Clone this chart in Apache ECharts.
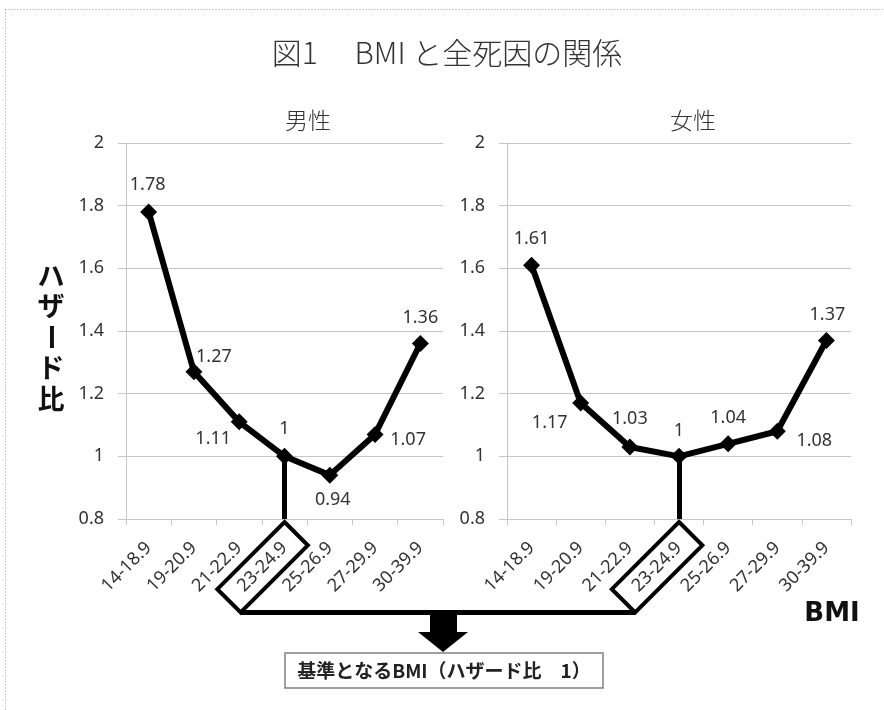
<!DOCTYPE html>
<html>
<head>
<meta charset="utf-8">
<script src="https://cdn.jsdelivr.net/npm/echarts@6/dist/echarts.min.js"></script>
<style>
  html, body { margin: 0; padding: 0; background: #ffffff; }
  #main { width: 884px; height: 710px; }
</style>
</head>
<body>
<div id="main"></div>
<script>
// BMI categories (x axis)
const categories = ['14-18.9', '19-20.9', '21-22.9', '23-24.9', '25-26.9', '27-29.9', '30-39.9'];
// Hazard ratios for all-cause mortality
const maleHR = [1.78, 1.27, 1.11, 1, 0.94, 1.07, 1.36];
const femaleHR = [1.61, 1.17, 1.03, 1, 1.04, 1.08, 1.37];
// Value axis range and step
const yMin = 0.8;
const yMax = 2;
const yStep = 0.2;
// Reference group
const referenceIndex = 3;
const referenceHR = 1;

// Texts
const chartTitle = '図1　 BMI と全死因の関係';
const panelTitles = ['男性', '女性'];
const yAxisTitle = 'ハザード比';
const xAxisTitle = 'BMI';
const noteText = '基準となるBMI（ハザード比　1）';

// Label placement around each marker (pixels)
const maleLabelOffsets = [[-1, -27], [20, -15], [-26, 17], [0, -27], [3, 25], [33, 5], [0, -26]];
const femaleLabelOffsets = [[0, -26], [-31, 20], [0, -28], [0, -25], [0, -26], [37, 10], [1, -26]];

const GRID_COLOR = '#c6c6c6';
const TEXT_COLOR = '#333333';
const NUM_FONT = '"Noto Sans", "DejaVu Sans", sans-serif';
const JP_FONT = '"Noto Sans CJK JP", "Noto Sans", sans-serif';

const chart = echarts.init(document.getElementById('main'), null, { renderer: 'canvas' });

function makeXAxis(gridIndex) {
  return {
    type: 'category',
    gridIndex: gridIndex,
    data: categories,
    boundaryGap: true,
    axisLine: { show: true, lineStyle: { color: GRID_COLOR, width: 1 } },
    axisTick: { show: true, interval: 0, length: 6, lineStyle: { color: GRID_COLOR } },
    axisLabel: {
      interval: 0, rotate: 45, margin: 26,
      fontSize: 18, color: TEXT_COLOR, fontFamily: NUM_FONT
    },
    splitLine: { show: false }
  };
}

function makeYAxis(gridIndex) {
  return {
    type: 'value',
    gridIndex: gridIndex,
    min: yMin, max: yMax, interval: yStep,
    axisLine: { show: true, lineStyle: { color: GRID_COLOR, width: 1 } },
    axisTick: { show: true, length: 8, lineStyle: { color: GRID_COLOR } },
    axisLabel: {
      margin: 22, fontSize: 18, color: TEXT_COLOR, fontFamily: NUM_FONT,
      formatter: v => String(Math.round(v * 10) / 10)
    },
    splitLine: { show: true, lineStyle: { color: GRID_COLOR, width: 1 } }
  };
}

function makeSeries(name, values, offsets, idx) {
  return {
    name: name,
    type: 'line',
    xAxisIndex: idx,
    yAxisIndex: idx,
    data: values.map((v, i) => ({
      value: v,
      label: { offset: offsets[i] }
    })),
    symbol: 'diamond',
    symbolSize: 17,
    lineStyle: { color: '#000000', width: 6 },
    itemStyle: { color: '#000000' },
    label: {
      show: true, position: 'inside',
      fontSize: 18, color: TEXT_COLOR, fontFamily: NUM_FONT
    },
    markLine: {
      silent: true,
      symbol: ['none', 'none'],
      label: { show: false },
      lineStyle: { color: '#000000', width: 5, type: 'solid' },
      data: [[
        { coord: [referenceIndex, referenceHR] },
        { coord: [referenceIndex, yMin] }
      ]]
    },
    z: 5,
    animation: false
  };
}

const option = {
  animation: false,
  backgroundColor: '#ffffff',
  grid: [
    { left: 126, top: 143, width: 317, height: 376 },
    { left: 507, top: 143, width: 344, height: 376 }
  ],
  xAxis: [makeXAxis(0), makeXAxis(1)],
  yAxis: [makeYAxis(0), makeYAxis(1)],
  series: [
    makeSeries(panelTitles[0], maleHR, maleLabelOffsets, 0),
    makeSeries(panelTitles[1], femaleHR, femaleLabelOffsets, 1)
  ]
};
chart.setOption(option);

// Annotation shapes placed relative to the reference category on each panel
function refBoxShapes(gridIndex) {
  const p = chart.convertToPixel({ gridIndex: gridIndex }, [referenceIndex, yMin]);
  const tx = p[0], ty = p[1] + 3;
  const s = Math.SQRT1_2;
  const shortSide = 33, longSide = 95;
  const T = [tx, ty];
  const R = [tx + shortSide * s, ty + shortSide * s];
  const L = [tx - longSide * s, ty + longSide * s];
  const B = [R[0] + L[0] - tx, R[1] + L[1] - ty];
  return { points: [T, R, B, L], bottom: B };
}
const boxM = refBoxShapes(0);
const boxF = refBoxShapes(1);
const joinY = (boxM.bottom[1] + boxF.bottom[1]) / 2;

const yTitleChars = yAxisTitle.split('');
const yTitleCenters = [276, 306, 337, 368, 399];

const graphics = [
  // dotted frame
  { type: 'line', shape: { x1: 5.5, y1: 9.5, x2: 884, y2: 9.5 },
    style: { stroke: '#9a9a9a', lineWidth: 1, lineDash: [1, 2] }, silent: true },
  { type: 'line', shape: { x1: 5.5, y1: 9.5, x2: 5.5, y2: 710 },
    style: { stroke: '#9a9a9a', lineWidth: 1, lineDash: [1, 2] }, silent: true },
  // main title
  { type: 'text', x: 447, y: 53,
    style: { text: chartTitle, align: 'center', verticalAlign: 'middle',
      font: '300 30px ' + JP_FONT, fill: TEXT_COLOR } },
  // panel titles
  { type: 'text', x: 308, y: 120,
    style: { text: panelTitles[0], align: 'center', verticalAlign: 'middle',
      font: '300 23px ' + JP_FONT, fill: TEXT_COLOR } },
  { type: 'text', x: 693, y: 120,
    style: { text: panelTitles[1], align: 'center', verticalAlign: 'middle',
      font: '300 23px ' + JP_FONT, fill: TEXT_COLOR } },
  // x axis title
  { type: 'text', x: 832, y: 614,
    style: { text: xAxisTitle, align: 'center', verticalAlign: 'middle',
      font: 'bold 26px "DejaVu Sans", sans-serif', fill: '#111111' } },
  // reference boxes around 23-24.9
  { type: 'polygon', shape: { points: boxM.points }, z: 10,
    style: { fill: 'none', stroke: '#000000', lineWidth: 4, lineJoin: 'miter' } },
  { type: 'polygon', shape: { points: boxF.points }, z: 10,
    style: { fill: 'none', stroke: '#000000', lineWidth: 4, lineJoin: 'miter' } },
  // connector between boxes
  { type: 'line', z: 10,
    shape: { x1: boxM.bottom[0], y1: joinY, x2: boxF.bottom[0], y2: joinY },
    style: { stroke: '#000000', lineWidth: 5 } },
  // down arrow
  { type: 'polygon', z: 10,
    shape: { points: [[430, joinY], [457, joinY], [457, 632], [468, 632], [443, 652], [418, 632], [430, 632]] },
    style: { fill: '#000000' } },
  // note box
  { type: 'rect', z: 10, shape: { x: 285, y: 653, width: 318, height: 35 },
    style: { fill: '#ffffff', stroke: '#808080', lineWidth: 1.5 } },
  { type: 'text', z: 11, x: 444, y: 671,
    style: { text: noteText, align: 'center', verticalAlign: 'middle',
      font: 'bold 19px ' + JP_FONT, fill: '#222222' } }
];

// vertical y axis title, one character per row; the long-vowel mark turns upright
yTitleChars.forEach((ch, i) => {
  graphics.push({
    type: 'text', x: 51, y: yTitleCenters[i],
    rotation: ch === 'ー' ? -Math.PI / 2 : 0,
    style: { text: ch, align: 'center', verticalAlign: 'middle',
      font: 'bold 27px ' + JP_FONT, fill: '#111111' }
  });
});

chart.setOption({ graphic: graphics });
</script>
</body>
</html>
